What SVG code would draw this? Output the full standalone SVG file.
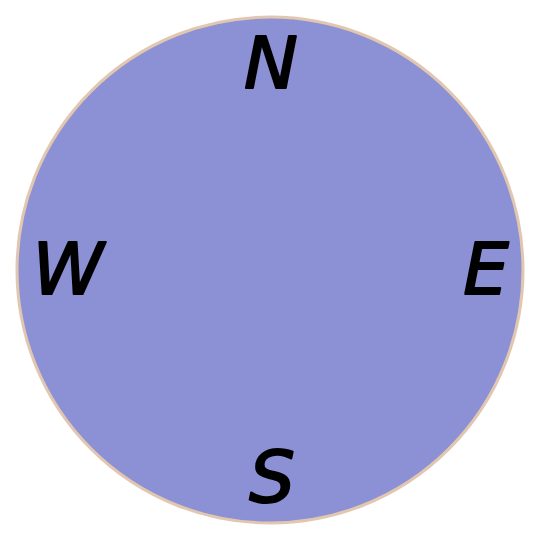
<svg xmlns="http://www.w3.org/2000/svg" width="540" height="540" viewBox="0 0 540 540">
<style>
.dial{fill:#8b91d4;stroke:#e2c7b0;stroke-width:3}
.lbl{font-family:"DejaVu Sans",sans-serif;font-style:oblique;font-size:72px;fill:#000;stroke:#000;stroke-width:2;stroke-linejoin:round;text-anchor:middle}
</style>
<rect width="540" height="540" fill="#ffffff"/>
<g id="dial"><circle class="dial" cx="270" cy="270" r="253"/></g>
<g id="north"><text class="lbl" x="271" y="88">N</text></g>
<g id="east"><text class="lbl" x="486" y="294">E</text></g>
<g id="south"><text class="lbl" x="272" y="502">S</text></g>
<g id="west"><text class="lbl" x="68" y="294">W</text></g>
</svg>
